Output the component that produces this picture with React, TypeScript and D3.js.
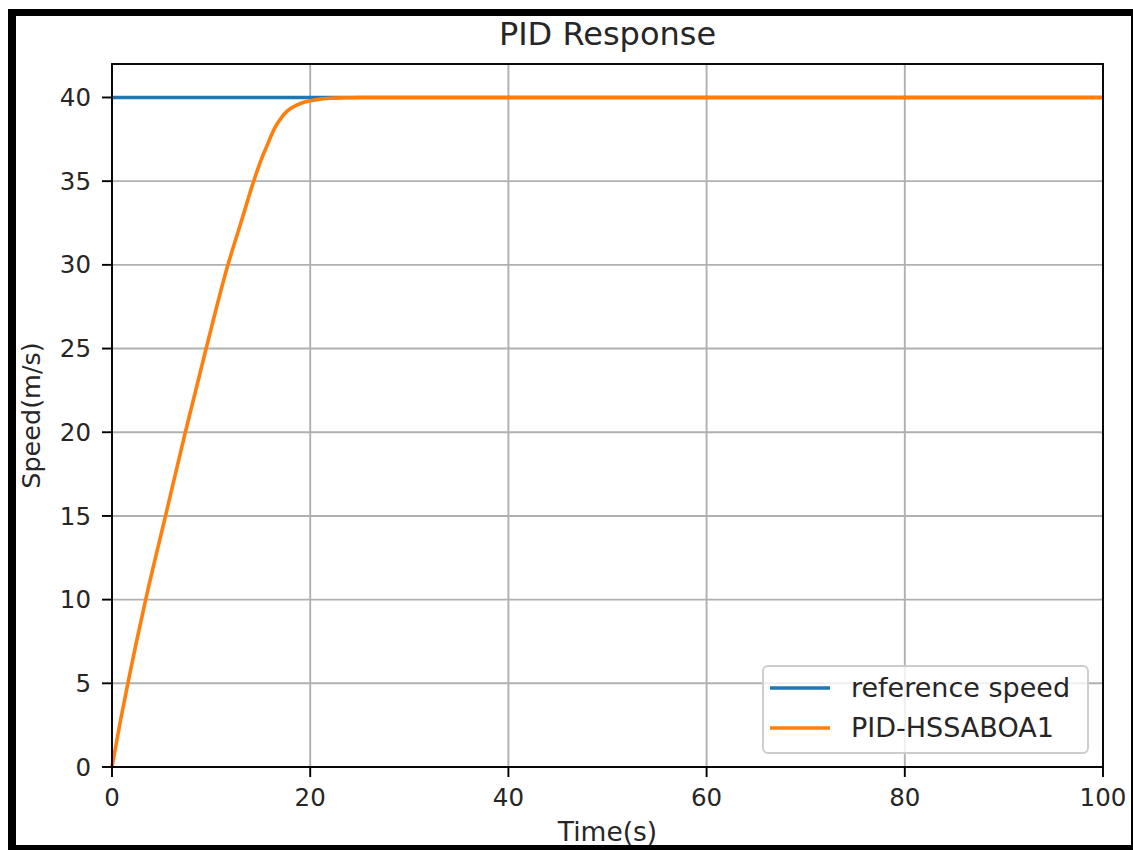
import React from "react";
import * as d3 from "d3";

const title = "PID Response";
const xLabel = "Time(s)";
const yLabel = "Speed(m/s)";
const xTicks = [0, 20, 40, 60, 80, 100];
const yTicks = [0, 5, 10, 15, 20, 25, 30, 35, 40];
const seriesNames = ["reference speed", "PID-HSSABOA1"];
const seriesColors = ["#1f77b4", "#ff7f0e"];

const refTime = [0, 100];
const refSpeed = [40, 40];

const pidTime = [0, 0.8, 1.6, 3.4, 5.4, 7.4, 9.5, 11.7, 13, 14.3, 15, 15.7, 16.4, 17.1, 17.7, 18.5, 19.3, 20, 21, 22, 23.5, 25, 30, 100];
const pidSpeed = [0, 2.6, 5, 10, 15, 20, 25, 30, 32.5, 35, 36.2, 37.2, 38.15, 38.8, 39.2, 39.5, 39.7, 39.8, 39.9, 39.95, 39.98, 40, 40, 40];

const W = 1133;
const H = 850;
const L = 112, R = 1103, T = 64, B = 767;
const FONT = "DejaVu Sans, Verdana, sans-serif";

export default function App() {
  const x = d3.scaleLinear().domain([0, 100]).range([L, R]);
  const y = d3.scaleLinear().domain([0, 42]).range([B, T]);
  const line = d3
    .line<[number, number]>()
    .x((d) => x(d[0]))
    .y((d) => y(d[1]))
    .curve(d3.curveMonotoneX);
  const refData: [number, number][] = refTime.map((t, i) => [t, refSpeed[i]]);
  const pidData: [number, number][] = pidTime.map((t, i) => [t, pidSpeed[i]]);

  return (
    <svg
      width={W}
      height={H}
      style={{ position: "absolute", left: 0, top: 0, display: "block" }}
      fontFamily={FONT}
    >
      <rect x={0} y={0} width={W} height={H} fill="#ffffff" />
      <rect x={8} y={9} width={W - 8} height={H - 9} fill="#000000" />
      <rect x={16} y={16} width={1131 - 16} height={845 - 16} fill="#ffffff" />

      {/* grid */}
      {xTicks.map((t) => (
        <line key={"gx" + t} x1={x(t)} x2={x(t)} y1={T} y2={B} stroke="#b0b0b0" strokeWidth={1.9} />
      ))}
      {yTicks.map((t) => (
        <line key={"gy" + t} x1={L} x2={R} y1={y(t)} y2={y(t)} stroke="#b0b0b0" strokeWidth={1.9} />
      ))}

      {/* series */}
      <path d={line(refData) || ""} fill="none" stroke={seriesColors[0]} strokeWidth={3.6} />
      <path d={line(pidData) || ""} fill="none" stroke={seriesColors[1]} strokeWidth={3.6} />

      {/* spines */}
      <rect x={L} y={T} width={R - L} height={B - T} fill="none" stroke="#000" strokeWidth={1.9} />

      {/* x ticks */}
      {xTicks.map((t) => (
        <g key={"xt" + t}>
          <line x1={x(t)} x2={x(t)} y1={B} y2={B + 10} stroke="#000" strokeWidth={1.9} />
          <text x={x(t)} y={806} fontSize={24.5} textAnchor="middle" fill="#262626">
            {t}
          </text>
        </g>
      ))}
      {/* y ticks */}
      {yTicks.map((t) => (
        <g key={"yt" + t}>
          <line x1={L - 10} x2={L} y1={y(t)} y2={y(t)} stroke="#000" strokeWidth={1.9} />
          <text x={91} y={y(t) + 8.6} fontSize={24.5} textAnchor="end" fill="#262626">
            {t}
          </text>
        </g>
      ))}

      <text x={(L + R) / 2} y={45} fontSize={32} textAnchor="middle" fill="#262626">
        {title}
      </text>
      <text x={(L + R) / 2} y={841} fontSize={26.5} textAnchor="middle" fill="#262626">
        {xLabel}
      </text>
      <text
        transform={`translate(39.5, ${(T + B) / 2}) rotate(-90)`}
        fontSize={25.5}
        textAnchor="middle"
        fill="#262626"
      >
        {yLabel}
      </text>

      {/* legend */}
      <rect x={763} y={666} width={325} height={87} rx={5} fill="#ffffff" fillOpacity={0.8} stroke="#cccccc" strokeWidth={1.9} />
      {seriesNames.map((name, i) => (
        <g key={name}>
          <line x1={770} x2={830} y1={688 + i * 40} y2={688 + i * 40} stroke={seriesColors[i]} strokeWidth={3.6} />
          <text x={851} y={697 + i * 40} fontSize={27} fill="#262626">
            {name}
          </text>
        </g>
      ))}
    </svg>
  );
}
